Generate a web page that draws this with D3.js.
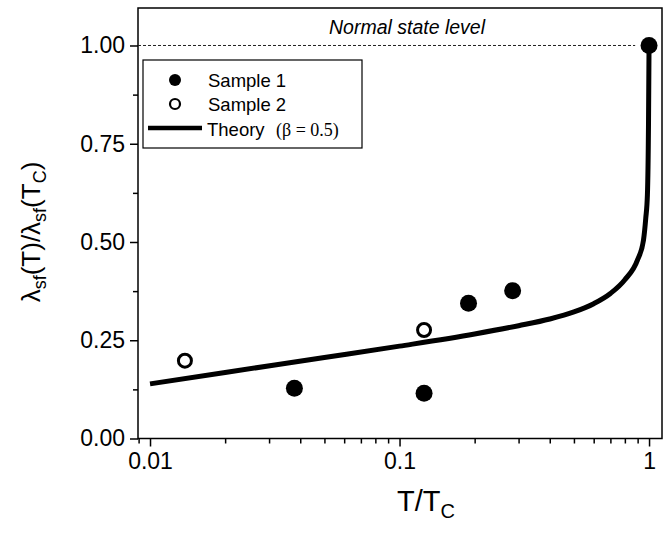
<!DOCTYPE html>
<html><head><meta charset="utf-8">
<script src="https://cdn.jsdelivr.net/npm/d3@7"></script>
<style>body{margin:0;background:#fff}svg{display:block}</style>
</head><body>
<script>
// ---- data ----
const sample1T = [0.0379, 0.1254, 0.189, 0.284, 1.0];
const sample1V = [0.128, 0.115, 0.344, 0.376, 1.0];
const sample2T = [0.0138, 0.1254];
const sample2V = [0.198, 0.276];
const theoryT = [0.01, 0.02, 0.05, 0.1, 0.2, 0.3, 0.4, 0.5, 0.6, 0.7, 0.8, 0.9, 0.95, 0.97, 0.985, 0.995, 1.0];
const theoryV = [0.139, 0.168, 0.206, 0.235, 0.266, 0.287, 0.304, 0.322, 0.343, 0.369, 0.404, 0.455, 0.505, 0.56, 0.62, 0.80, 1.0];
const xMajorTicks = [0.01, 0.1, 1];
const xTickLabels = ["0.01", "0.1", "1"];
const yMajorTicks = [0, 0.25, 0.5, 0.75, 1.0];
const yTickLabels = ["0.00", "0.25", "0.50", "0.75", "1.00"];
const normalLevel = 1.0;

const W = 663, H = 535;
const L = 138, R = 662, T = 8, B = 438.5;
const svg = d3.select("body").append("svg").attr("width", W).attr("height", H);

const x = d3.scaleLog().domain([0.00895, 1.127]).range([L, R]);
const y = d3.scaleLinear().domain([0, 1.0954]).range([B, T]);

const font = "'Liberation Sans', Arial, sans-serif";

// minor ticks
const xMinor = [];
[0.001, 0.01, 0.1].forEach(d => { for (let k = 2; k <= 9; k++) { const v = d * k; if (v >= 0.00895 && v <= 1.127) xMinor.push(v); } });
const yMinor = [0.125, 0.375, 0.625, 0.875];

// axes
const xAxis = d3.axisBottom(x).tickValues(xMajorTicks).tickFormat((d, i) => xTickLabels[i]).tickSize(8).tickPadding(6);
const gx = svg.append("g").attr("transform", `translate(0,${B})`).call(xAxis);
gx.select(".domain").remove();
gx.selectAll("line").attr("stroke", "#000").attr("stroke-width", 1.5);
gx.selectAll("text").attr("font-family", font).attr("font-size", 23).attr("fill", "#000");
const gxm = svg.append("g").attr("transform", `translate(0,${B})`).call(d3.axisBottom(x).tickValues(xMinor).tickFormat("").tickSize(5));
gxm.select(".domain").remove();
gxm.selectAll("line").attr("stroke", "#000").attr("stroke-width", 1.5);

const yAxis = d3.axisLeft(y).tickValues(yMajorTicks).tickFormat((d, i) => yTickLabels[i]).tickSize(8).tickPadding(5);
const gy = svg.append("g").attr("transform", `translate(${L},0)`).call(yAxis);
gy.select(".domain").remove();
gy.selectAll("line").attr("stroke", "#000").attr("stroke-width", 1.5);
gy.selectAll("text").attr("font-family", font).attr("font-size", 23).attr("fill", "#000");
const gym = svg.append("g").attr("transform", `translate(${L},0)`).call(d3.axisLeft(y).tickValues(yMinor).tickFormat("").tickSize(5));
gym.select(".domain").remove();
gym.selectAll("line").attr("stroke", "#000").attr("stroke-width", 1.5);

// frame
svg.append("rect").attr("x", L).attr("y", T).attr("width", R - L).attr("height", B - T)
  .attr("fill", "none").attr("stroke", "#000").attr("stroke-width", 1.5);

// normal state level
svg.append("line").attr("x1", L).attr("x2", x(0.88)).attr("y1", y(normalLevel)).attr("y2", y(normalLevel))
  .attr("stroke", "#222").attr("stroke-width", 1).attr("stroke-dasharray", "3,2");
svg.append("text").attr("x", 407).attr("y", 34).attr("text-anchor", "middle")
  .attr("font-family", font).attr("font-style", "italic").attr("font-size", 19.5).text("Normal state level");

// theory curve
const theory = theoryT.map((t, i) => [t, theoryV[i]]);
svg.append("path").datum(theory)
  .attr("d", d3.line().x(d => x(d[0])).y(d => y(d[1])).curve(d3.curveMonotoneX))
  .attr("fill", "none").attr("stroke", "#000").attr("stroke-width", 5);

// sample 1
svg.append("g").selectAll("circle").data(sample1T.map((t, i) => [t, sample1V[i]])).join("circle")
  .attr("cx", d => x(d[0])).attr("cy", d => y(d[1])).attr("r", 8.5).attr("fill", "#000");
// sample 2
svg.append("g").selectAll("circle").data(sample2T.map((t, i) => [t, sample2V[i]])).join("circle")
  .attr("cx", d => x(d[0])).attr("cy", d => y(d[1])).attr("r", 6.5)
  .attr("fill", "#fff").attr("stroke", "#000").attr("stroke-width", 3);

// legend
const lg = svg.append("g");
lg.append("rect").attr("x", 143).attr("y", 60).attr("width", 219).attr("height", 88)
  .attr("fill", "#fff").attr("stroke", "#000").attr("stroke-width", 1.2);
lg.append("circle").attr("cx", 175).attr("cy", 80).attr("r", 6).attr("fill", "#000");
lg.append("circle").attr("cx", 175).attr("cy", 104).attr("r", 5).attr("fill", "#fff").attr("stroke", "#000").attr("stroke-width", 2.2);
lg.append("line").attr("x1", 148).attr("x2", 202).attr("y1", 128).attr("y2", 128).attr("stroke", "#000").attr("stroke-width", 4.5);
lg.append("text").attr("x", 208).attr("y", 87).attr("font-family", font).attr("font-size", 18.5).text("Sample 1");
lg.append("text").attr("x", 208).attr("y", 111).attr("font-family", font).attr("font-size", 18.5).text("Sample 2");
const th = lg.append("text").attr("x", 207).attr("y", 136).attr("font-family", font).attr("font-size", 18.5);
th.append("tspan").text("Theory");
th.append("tspan").attr("x", 276).attr("font-family", "'Liberation Serif', 'Times New Roman', serif").attr("font-size", 18).text("(β = 0.5)");

// x title
const xt = svg.append("text").attr("x", 426).attr("y", 511).attr("text-anchor", "middle")
  .attr("font-family", font).attr("font-size", 29);
xt.append("tspan").text("T/T");
xt.append("tspan").attr("font-size", 20).attr("dy", 7).text("C");

// y title
const yt = svg.append("text").attr("transform", "translate(40,232) rotate(-90)").attr("text-anchor", "middle")
  .attr("font-family", font).attr("font-size", 26);
yt.append("tspan").text("λ");
yt.append("tspan").attr("font-size", 18).attr("dy", 6).text("sf");
yt.append("tspan").attr("dy", -6).text("(T)/λ");
yt.append("tspan").attr("font-size", 18).attr("dy", 6).text("sf");
yt.append("tspan").attr("dy", -6).text("(T");
yt.append("tspan").attr("font-size", 18).attr("dy", 6).text("C");
yt.append("tspan").attr("dy", -6).text(")");
</script>
</body></html>
